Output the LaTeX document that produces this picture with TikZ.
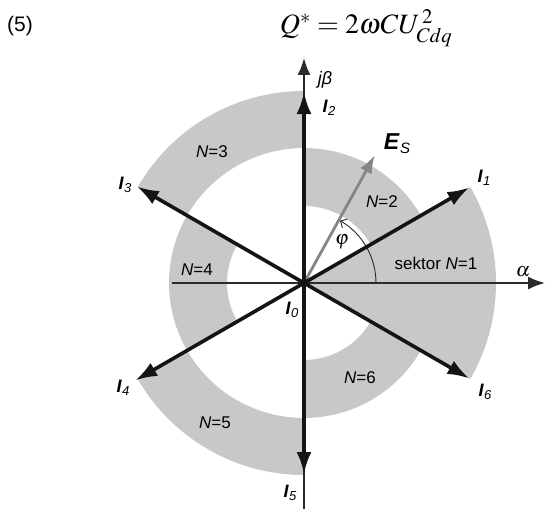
\documentclass[tikz,border=0pt]{standalone}
\usepackage{mathptmx}
\usepackage[no-math]{fontspec}
\setmainfont{Liberation Sans}
\usetikzlibrary{arrows.meta}
\definecolor{bandgray}{HTML}{C8C8C8}
\definecolor{esgray}{HTML}{858585}
\definecolor{axisgray}{HTML}{2A2A2A}
\newcommand{\Ivec}[1]{\textbf{\textit{I}}\kern0.3pt\raisebox{-0.35ex}{\fontsize{13}{13}\selectfont\textit{#1}}}
\begin{document}
\begin{tikzpicture}[x=1pt,y=1pt,
  lbl/.style={font=\fontsize{18}{20}\selectfont, inner sep=0pt},
  vlbl/.style={font=\fontsize{17}{20}\selectfont, inner sep=0pt},
  ivec/.style={line width=3.6pt, draw=black!92, -{Latex[length=22pt,width=15pt]}},
  esvec/.style={line width=2.8pt, draw=esgray, -{Latex[length=18pt,width=13pt]}},
  axis/.style={line width=1.8pt, draw=axisgray, -{Latex[length=17pt,width=13pt]}},
  band/.style={fill=bandgray, draw=none}]
\useasboundingbox (-304,-226) rectangle (242,283);
\def\Ra{77}\def\Rb{135}\def\Rc{192}
\coordinate (O) at (0,0);
% shaded sectors
\fill[band] (O) -- (-30:\Rc) arc[start angle=-30,end angle=30,radius=\Rc] -- cycle;
\fill[band] (30:\Ra) arc[start angle=30,end angle=90,radius=\Ra] -- (90:\Rb) arc[start angle=90,end angle=30,radius=\Rb] -- cycle;
\fill[band] (90:\Rb) arc[start angle=90,end angle=150,radius=\Rb] -- (150:\Rc) arc[start angle=150,end angle=90,radius=\Rc] -- cycle;
\fill[band] (150:\Ra) arc[start angle=150,end angle=210,radius=\Ra] -- (210:\Rb) arc[start angle=210,end angle=150,radius=\Rb] -- cycle;
\fill[band] (210:\Rb) arc[start angle=210,end angle=270,radius=\Rb] -- (270:\Rc) arc[start angle=270,end angle=210,radius=\Rc] -- cycle;
\fill[band] (270:\Ra) arc[start angle=270,end angle=330,radius=\Ra] -- (330:\Rb) arc[start angle=330,end angle=270,radius=\Rb] -- cycle;
% axes
\coordinate (xl) at (-132,0);
\coordinate (xr) at (241,0);
\coordinate (yb) at (0,-226);
\coordinate (yt) at (0,225);
\draw[axis] (xl) -- (xr);
\draw[axis] (yb) -- (yt);
% phi arc
\coordinate (p0) at (0:72);
\draw[line width=0.9pt, draw=axisgray, -{Straight Barb[length=5pt,width=10pt]}] (p0) arc[start angle=0,end angle=60,radius=72];
% Es vector
\coordinate (te) at (61:146);
\draw[esvec] (O) -- (te);
% current vectors
\coordinate (t1) at (30:191);
\coordinate (t2) at (90:191);
\coordinate (t3) at (150:193);
\coordinate (t4) at (210:195);
\coordinate (t5) at (270:191);
\coordinate (t6) at (330:191);
\foreach \k in {1,...,6}{\draw[ivec] (O) -- (t\k);}
% labels
\node[lbl] (ljb) at (21,203) {\textit{jβ}};
\node[lbl] (lI2) at (25,175) {\Ivec{2}};
\node[font=\fontsize{23}{24}\selectfont, inner sep=0pt] (lEs) at (93,139) {\textbf{\textit{E}}\kern0.3pt\raisebox{-0.35ex}{\fontsize{15}{15}\selectfont\textit{S}}};
\node[lbl] (lI1) at (180,105) {\Ivec{1}};
\node[lbl] (lI3) at (-179,98) {\Ivec{3}};
\node[lbl] (lI4) at (-181,-105) {\Ivec{4}};
\node[lbl] (lI5) at (-14,-210) {\Ivec{5}};
\node[lbl] (lI6) at (181,-109) {\Ivec{6}};
\node[lbl] (lI0) at (-12,-27) {\Ivec{0}};
\node[font=\fontsize{20}{22}\selectfont, inner sep=0pt] (lal) at (219,11) {$\alpha$};
\node[font=\fontsize{20}{22}\selectfont, inner sep=0pt] (lphi) at (38,41) {$\varphi$};
\node[vlbl] (lN1) at (132,20) {sektor \textit{N}=1};
\node[vlbl] (lN2) at (78,81) {\textit{N}=2};
\node[vlbl] (lN3) at (-92,131) {\textit{N}=3};
\node[vlbl] (lN4) at (-107,13) {\textit{N}=4};
\node[vlbl] (lN5) at (-89,-140) {\textit{N}=5};
\node[vlbl] (lN6) at (56,-95) {\textit{N}=6};
\node[font=\fontsize{21}{22}\selectfont, inner sep=0pt] (eqn) at (-284,257) {(5)};
\node[font=\fontsize{28}{30}\selectfont, inner sep=0pt] (eq) at (62,255) {$Q^{*}=2\omega CU_{Cdq}^{\,2}$};
\end{tikzpicture}
\end{document}
